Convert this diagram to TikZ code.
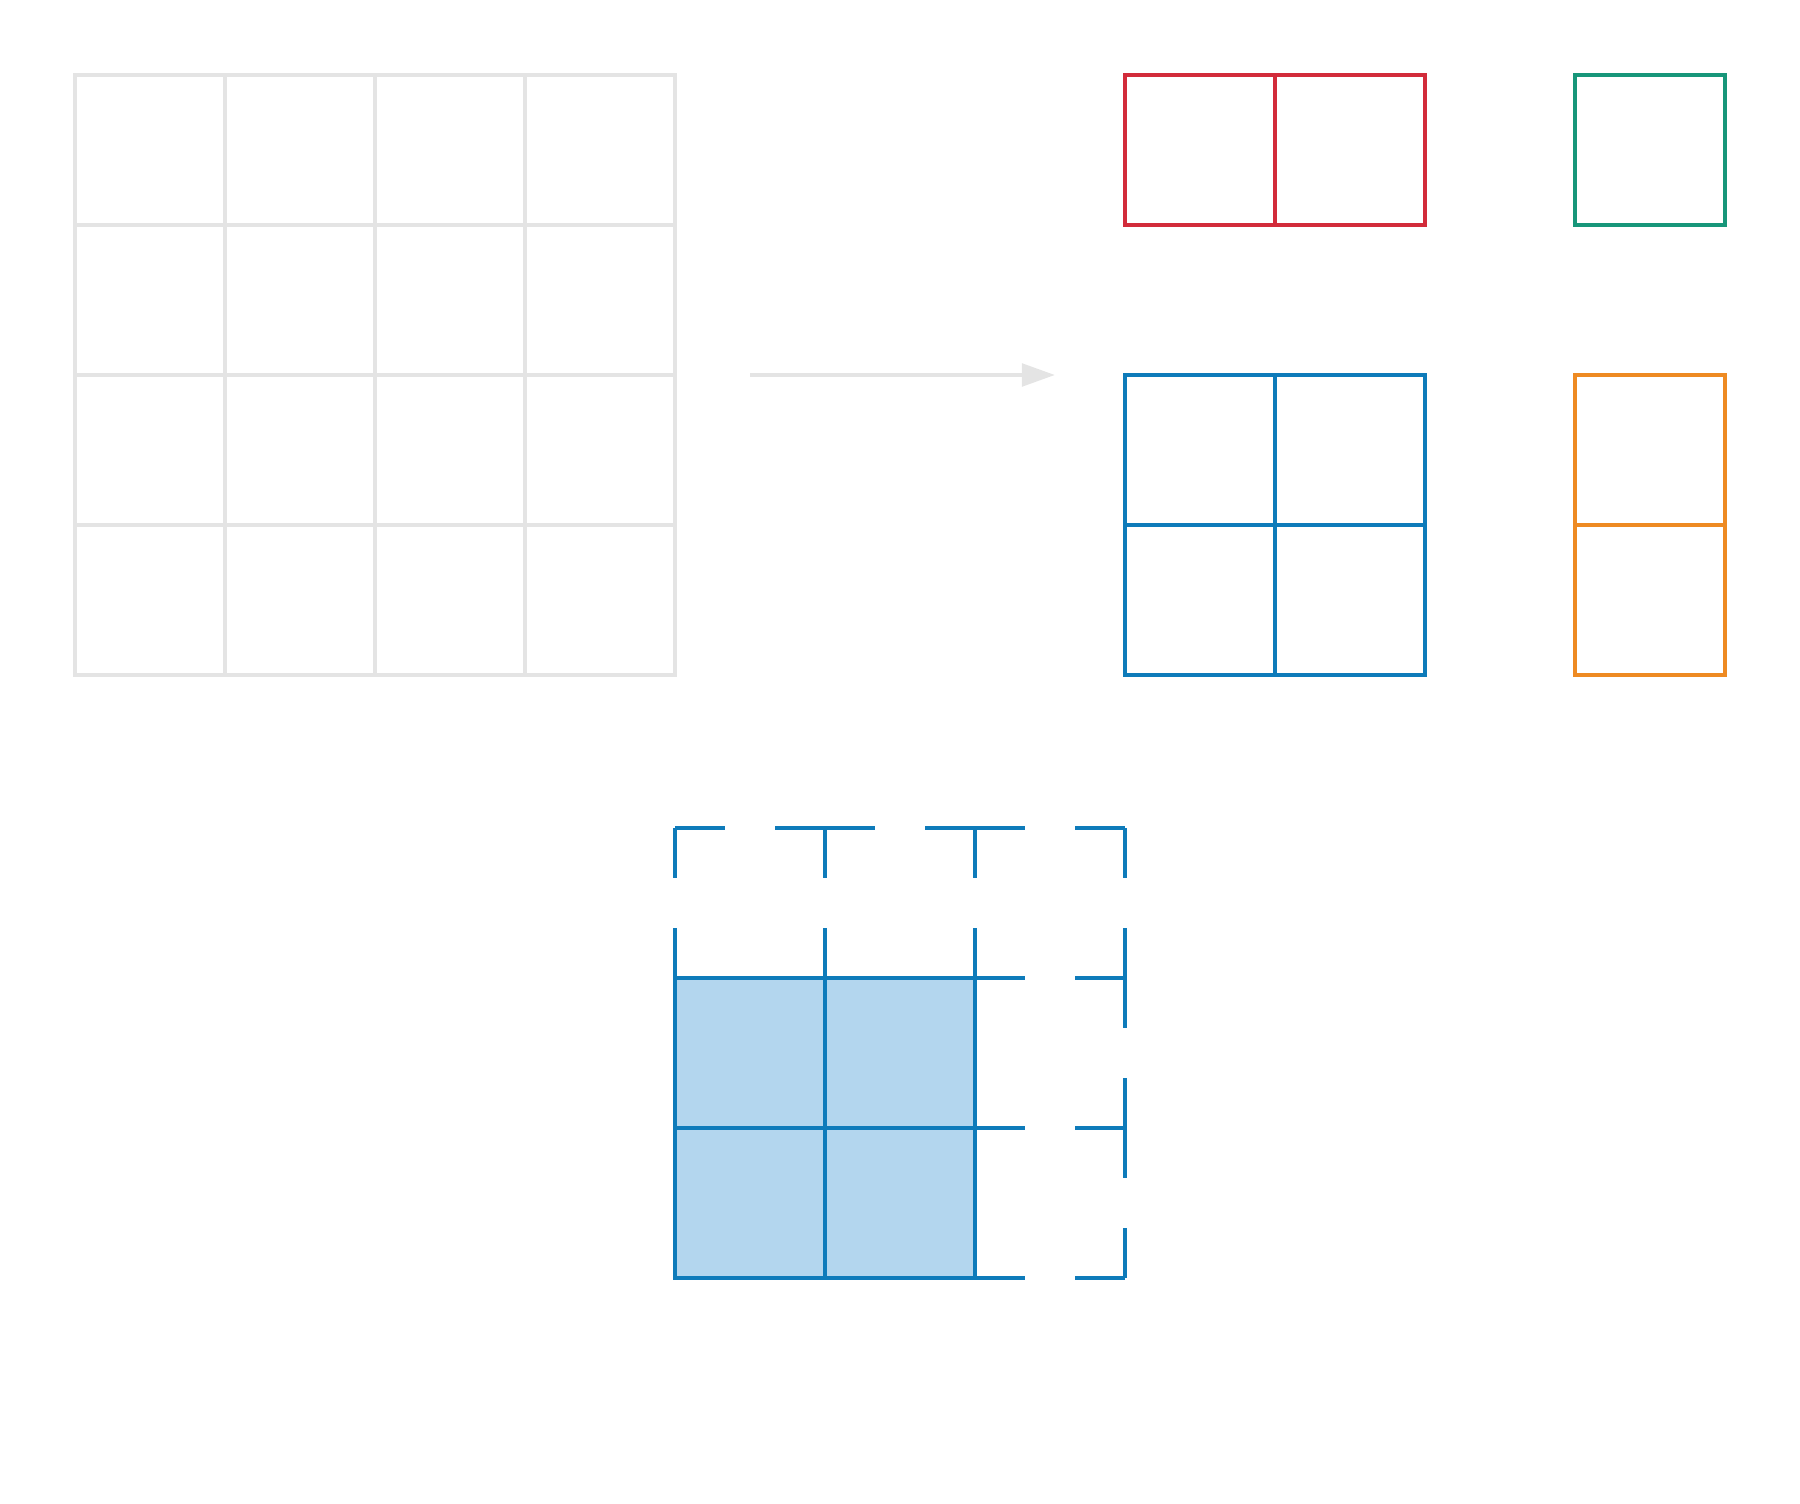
\documentclass[tikz,border=0pt]{standalone}
\usepackage{tikz}
\usetikzlibrary{arrows.meta}

\definecolor{gridgray}{HTML}{E4E4E4}
\definecolor{partred}{HTML}{D22B3A}
\definecolor{partgreen}{HTML}{17967A}
\definecolor{partblue}{HTML}{0E7BBA}
\definecolor{partorange}{HTML}{EE8A22}
\definecolor{tilefill}{HTML}{B3D6EE}

\begin{document}
\begin{tikzpicture}[x=1cm, y=-1cm, >={Triangle[length=2.2mm,width=1.5mm]},
	full/.style={draw=gridgray, line width=0.65pt},
	part/.style={line width=0.75pt},
	pad/.style={draw=partblue, line width=0.75pt, dash pattern=on 0.6667cm off 0.3333cm, dash phase=0.3333cm}]

		\useasboundingbox (0,0) rectangle (12,10.0267);

		% full matrix
		\foreach \i in {0,...,3}
			\foreach \j in {0,...,3}
				\draw[full] (0.5+\i,0.5+\j) rectangle (1.5+\i,1.5+\j);

		\coordinate (split) at (5.0,2.5);
		\coordinate (parts) at (7.033,2.5);
		\draw[->, gridgray, line width=0.75pt] (split) -- (parts);

		% pieces
		\foreach \i in {0,1}
			\draw[part, partred] (7.5+\i,0.5) rectangle (8.5+\i,1.5);
		\draw[part, partgreen] (10.5,0.5) rectangle (11.5,1.5);
		\foreach \i in {0,1}
			\foreach \j in {0,1}
				\draw[part, partblue] (7.5+\i,2.5+\j) rectangle (8.5+\i,3.5+\j);
		\foreach \j in {0,1}
			\draw[part, partorange] (10.5,2.5+\j) rectangle (11.5,3.5+\j);

		% padded block
		\fill[tilefill] (4.5,6.523) rectangle (6.5,8.523);
		\foreach \k in {0,...,3} {
			\draw[pad] (4.5,5.523+\k) -- (7.5,5.523+\k);
			\draw[pad] (4.5+\k,5.523) -- (4.5+\k,8.523);
		}
		\foreach \i in {0,1}
			\foreach \j in {0,1}
				\draw[part, partblue] (4.5+\i,6.523+\j) rectangle (5.5+\i,7.523+\j);

\end{tikzpicture}
\end{document}
